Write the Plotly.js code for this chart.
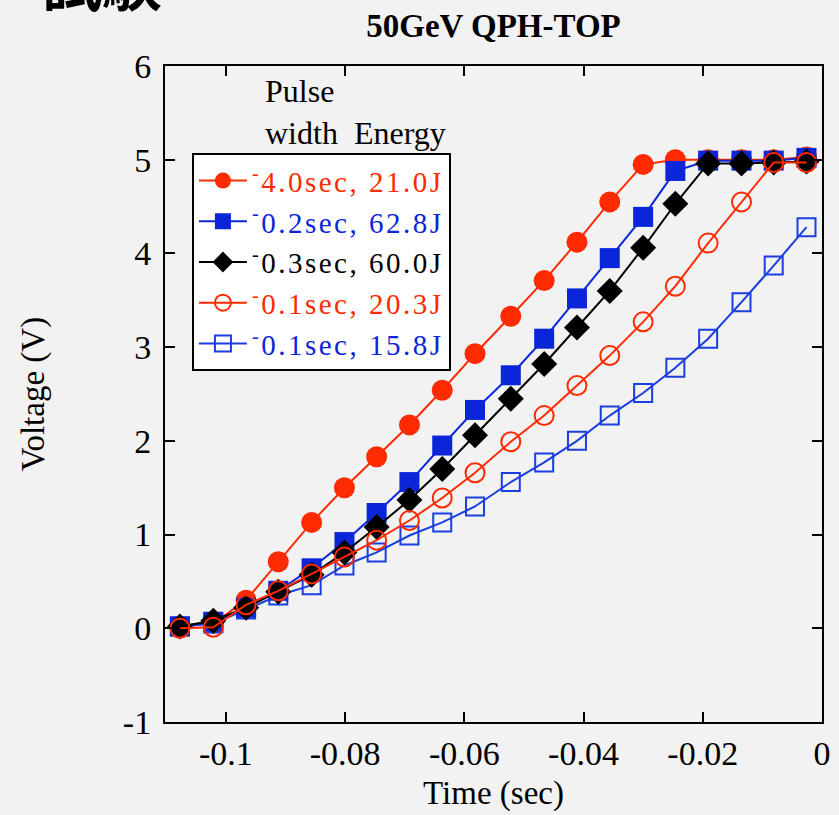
<!DOCTYPE html>
<html>
<head>
<meta charset="utf-8">
<script src="https://cdn.plot.ly/plotly-3.0.1.min.js"></script>
<style>
  html, body { margin: 0; padding: 0; background: #f2f2f2; }
  #chart { width: 839px; height: 815px; }
</style>
</head>
<body>
<div id="chart"></div>
<script>
// Time axis (sec) shared by all series
const time = [-0.1077, -0.1021, -0.0966, -0.0912, -0.0856, -0.0801, -0.0747, -0.0692, -0.0637, -0.0582,
              -0.0522, -0.0466, -0.0411, -0.0356, -0.0300, -0.0246, -0.0191, -0.0135, -0.0081, -0.0026];

// Voltage (V) per series
const v_4_0s_21_0J = [0.02, 0.05, 0.30, 0.71, 1.13, 1.50, 1.83, 2.17, 2.54, 2.93,
                      3.33, 3.71, 4.12, 4.55, 4.95, 5.00, 5.00, 5.00, 5.00, 5.03];
const v_0_2s_62_8J = [0.02, 0.07, 0.22, 0.40, 0.64, 0.92, 1.23, 1.56, 1.95, 2.33,
                      2.70, 3.09, 3.52, 3.95, 4.39, 4.88, 4.99, 4.99, 4.99, 5.02];
const v_0_3s_60_0J = [0.02, 0.08, 0.22, 0.39, 0.57, 0.81, 1.08, 1.37, 1.70, 2.06,
                      2.45, 2.82, 3.21, 3.60, 4.06, 4.53, 4.96, 4.96, 4.97, 4.98];
const v_0_1s_20_3J = [0.00, 0.01, 0.25, 0.40, 0.58, 0.76, 0.94, 1.15, 1.39, 1.66,
                      1.99, 2.27, 2.59, 2.91, 3.27, 3.65, 4.11, 4.55, 4.97, 4.97];
const v_0_1s_15_8J = [0.02, 0.05, 0.20, 0.35, 0.46, 0.67, 0.81, 0.99, 1.13, 1.30,
                      1.56, 1.77, 2.00, 2.27, 2.51, 2.78, 3.09, 3.48, 3.87, 4.28];

// Legend labels
const seriesNames = ["4.0sec, 21.0J", "0.2sec, 62.8J", "0.3sec, 60.0J", "0.1sec, 20.3J", "0.1sec, 15.8J"];

// Tick labels
const xTickVals = [-0.1, -0.08, -0.06, -0.04, -0.02, 0];
const xTickText = ["-0.1", "-0.08", "-0.06", "-0.04", "-0.02", "0"];
const yTickVals = [-1, 0, 1, 2, 3, 4, 5, 6];
const yTickText = ["-1", "0", "1", "2", "3", "4", "5", "6"];

const RED = "#ff2a00", BLUE = "#0a26d8", BLACK = "#000000";
const SERIF = "Liberation Serif, Times New Roman, serif";

function label(name, color) {
  return '<span style="color:' + color + ';letter-spacing:2.5px"><sup>-</sup>' + name + '</span>';
}

const traces = [
  { x: time, y: v_4_0s_21_0J, name: label(seriesNames[0], RED), legendrank: 1,
    mode: "lines+markers", line: { color: RED, width: 2 },
    marker: { symbol: "circle", size: 21, color: RED } },
  { x: time, y: v_0_1s_15_8J, name: label(seriesNames[4], BLUE), legendrank: 5,
    mode: "lines+markers", line: { color: "#1a3ee0", width: 2 },
    marker: { symbol: "square-open", size: 18, color: "#1a3ee0", line: { width: 2 } } },
  { x: time, y: v_0_2s_62_8J, name: label(seriesNames[1], BLUE), legendrank: 2,
    mode: "lines+markers", line: { color: BLUE, width: 2 },
    marker: { symbol: "square", size: 20, color: BLUE } },
  { x: time, y: v_0_3s_60_0J, name: label(seriesNames[2], BLACK), legendrank: 3,
    mode: "lines+markers", line: { color: BLACK, width: 2 },
    marker: { symbol: "diamond", size: 20, color: BLACK } },
  { x: time, y: v_0_1s_20_3J, name: label(seriesNames[3], RED), legendrank: 4,
    mode: "lines+markers", line: { color: RED, width: 2 },
    marker: { symbol: "circle-open", size: 19, color: RED, line: { width: 2 } } }
];

const axisCommon = {
  showline: true, linecolor: "#000", linewidth: 2, mirror: "ticks",
  ticks: "inside", ticklen: 10, tickwidth: 2, tickcolor: "#000",
  showgrid: false, zeroline: false,
  tickfont: { family: SERIF, size: 34, color: "#000" },
  tickmode: "array"
};

const layout = {
  width: 839, height: 815,
  paper_bgcolor: "#f2f2f2", plot_bgcolor: "#f2f2f2",
  margin: { l: 165, r: 17, t: 66, b: 93 },
  showlegend: true,
  title: {
    text: "<b>50GeV QPH-TOP</b>",
    font: { family: SERIF, size: 33, color: "#000" },
    x: 0.5, xref: "paper", y: 0.969, yref: "container", yanchor: "middle"
  },
  xaxis: Object.assign({}, axisCommon, {
    range: [-0.1102, 0], tickvals: xTickVals, ticktext: xTickText,
    title: { text: "Time (sec)", font: { family: SERIF, size: 33, color: "#000" }, standoff: 10 }
  }),
  yaxis: Object.assign({}, axisCommon, {
    range: [-1, 6], tickvals: yTickVals, ticktext: yTickText, ticklabelstandoff: 5,
    title: { text: "Voltage (V)", font: { family: SERIF, size: 33, color: "#000" }, standoff: 68 }
  }),
  legend: {
    x: 0.041, y: 0.867, xanchor: "left", yanchor: "top",
    bgcolor: "#ffffff", bordercolor: "#000", borderwidth: 2,
    font: { family: SERIF, size: 29, color: "#000" },
    traceorder: "normal", itemwidth: 48
  },
  annotations: [
    { text: "Pulse<br>width&nbsp;&nbsp;Energy", xref: "paper", yref: "paper",
      x: 0.149, y: 0.992, xanchor: "left", yanchor: "top", align: "left", showarrow: false,
      font: { family: SERIF, size: 32, color: "#000" } },
    { text: "試験", xref: "paper", yref: "paper",
      x: -0.19, y: 1.062, xanchor: "left", yanchor: "bottom", showarrow: false,
      font: { family: "Noto Sans CJK JP", size: 60, color: "#000", weight: "bold" } }
  ]
};

Plotly.newPlot("chart", traces, layout, { displayModeBar: false, staticPlot: true });
</script>
</body>
</html>
